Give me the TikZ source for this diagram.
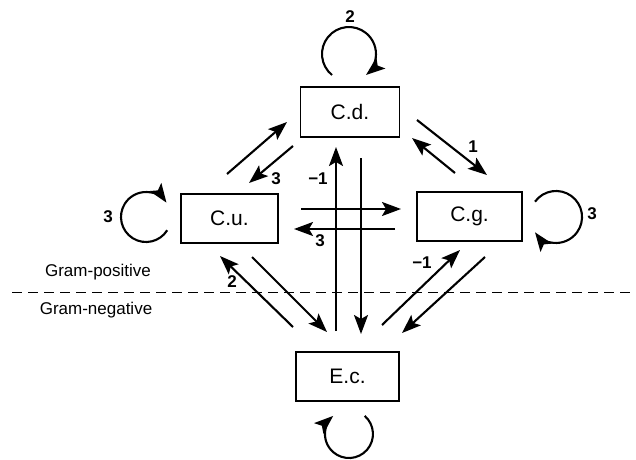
\documentclass[tikz,border=0pt]{standalone}
\usepackage{fontspec}
\setmainfont{Liberation Sans}
\usetikzlibrary{arrows.meta}
\begin{document}
\begin{tikzpicture}[x=1pt,y=1pt,
  species/.style={draw,line width=1.1pt,inner sep=0pt,font=\fontsize{21}{21}\selectfont},
  tip/.style={-{Stealth[length=19pt,width=14pt,inset=4pt]}},
  arr/.style={line width=2.1pt,tip},
  loop/.style={line width=2.1pt,tip},
  num/.style={font=\bfseries\fontsize{17}{17}\selectfont},
  region/.style={font=\fontsize{17}{17}\selectfont}]
\useasboundingbox (0,0) rectangle (636,459);

% species boxes
\node[species,minimum width=99pt,minimum height=50pt] (cd) at (350,347) {C.d.};
\node[species,minimum width=97pt,minimum height=49pt] (cu) at (229.5,240.5) {C.u.};
\node[species,minimum width=105pt,minimum height=49pt] (cg) at (469.5,242.5) {C.g.};
\node[species,minimum width=103pt,minimum height=49pt] (ec) at (347.5,82.5) {E.c.};

% self loops
\coordinate (cdl) at (332,384);
\draw[loop] (cdl) arc[start angle=231,end angle=-51,radius=27];
\node[num] (ncd) at (350,442) {2};
\coordinate (cul) at (167.2,228.75);
\draw[loop] (cul) arc[start angle=-32,end angle=-325,radius=25];
\node[num] (ncu) at (108,242) {3};
\coordinate (cgl) at (535,257.3);
\draw[loop] (cgl) arc[start angle=144,end angle=-144,radius=26];
\node[num] (ncg) at (592,245) {3};
\coordinate (ecl) at (364.7,43.1);
\draw[loop] (ecl) arc[start angle=49,end angle=-229,radius=24];

% connector end points
\coordinate (a1) at (227,285);  \coordinate (b1) at (287,337);
\coordinate (a2) at (293,313);  \coordinate (b2) at (249,276);
\coordinate (a3) at (417,339);  \coordinate (b3) at (487,284);
\coordinate (a4) at (455,286);  \coordinate (b4) at (412,321);
\coordinate (a5) at (301,250);  \coordinate (b5) at (401,250);
\coordinate (a6) at (395,230);  \coordinate (b6) at (294,230);
\coordinate (a7) at (336,128);  \coordinate (b7) at (336,312);
\coordinate (a8) at (361,301);  \coordinate (b8) at (361,125);
\coordinate (a9) at (293,132);  \coordinate (b9) at (220,203);
\coordinate (a10) at (252,202); \coordinate (b10) at (327,127);
\coordinate (a11) at (382,134); \coordinate (b11) at (460,209);
\coordinate (a12) at (485,202); \coordinate (b12) at (402,126);

% interactions
\draw[arr] (a1) -- (b1);
\draw[arr] (a2) -- (b2);
\draw[arr] (a3) -- (b3);
\draw[arr] (a4) -- (b4);
\draw[arr] (a5) -- (b5);
\draw[arr] (a6) -- (b6);
\draw[arr] (a7) -- (b7);
\draw[arr] (a8) -- (b8);
\draw[arr] (a9) -- (b9);
\draw[arr] (a10) -- (b10);
\draw[arr] (a11) -- (b11);
\draw[arr] (a12) -- (b12);

% interaction strengths
\node[num] (n2) at (276,280) {3};
\node[num] (n4) at (473,312) {1};
\node[num] (n6) at (320,218) {3};
\node[num] (n7) at (318,280) {−1};
\node[num] (n9) at (232,177) {2};
\node[num] (n11) at (422,196) {−1};

% Gram-positive / Gram-negative divide
\coordinate (dl) at (12,167);
\coordinate (dr) at (636,167);
\draw[line width=1pt,dash pattern=on 10pt off 6pt] (dl) -- (dr);
\node[region] (gp) at (98,187) {Gram-positive};
\node[region] (gn) at (96,149) {Gram-negative};
\end{tikzpicture}
\end{document}
